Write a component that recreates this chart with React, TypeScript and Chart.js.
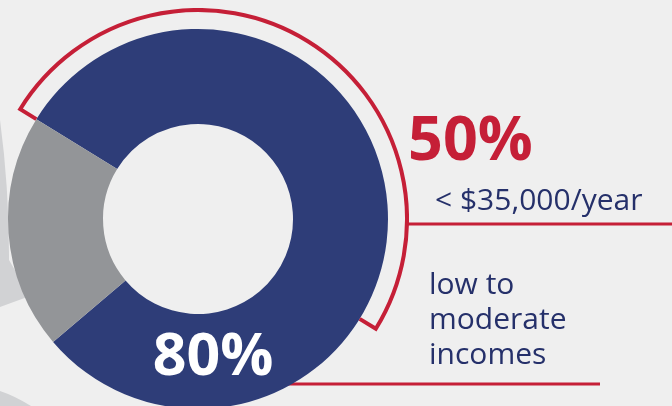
import React, { useEffect, useRef } from "react";
import { Chart, registerables } from "chart.js";

Chart.register(...registerables);

// ---- data ----
const categories = ["Low to moderate incomes", "Higher incomes"];
const incomeShares = [80, 20];
const under35kShares = [50, 50];
const ringColors = ["#2e3d78", "#939598"];
const headlineIncome = "80%";
const headlineUnder35k = "50%";
const under35kLabel = "< $35,000/year";
const incomeLabelLines = ["low to", "moderate", "incomes"];

const RED = "#c51f37";
const NAVY_TEXT = "#25306a";
const BG = "#efefef";

const bracketPlugin = {
  id: "bracketPlugin",
  afterDatasetsDraw(chart: any) {
    const meta = chart.getDatasetMeta(0);
    const arc = meta.data[0];
    if (!arc) return;
    const { x, y, startAngle, endAngle, innerRadius, outerRadius } = arc.getProps(
      ["x", "y", "startAngle", "endAngle", "innerRadius", "outerRadius"],
      true
    );
    const ctx = chart.ctx;
    const r = outerRadius - 2;
    ctx.save();
    ctx.strokeStyle = RED;
    ctx.lineWidth = 4;
    ctx.lineJoin = "miter";
    ctx.beginPath();
    ctx.moveTo(x + Math.cos(startAngle) * innerRadius, y + Math.sin(startAngle) * innerRadius);
    ctx.lineTo(x + Math.cos(startAngle) * r, y + Math.sin(startAngle) * r);
    ctx.arc(x, y, r, startAngle, endAngle);
    ctx.lineTo(x + Math.cos(endAngle) * innerRadius, y + Math.sin(endAngle) * innerRadius);
    ctx.stroke();
    ctx.restore();
  },
};

export default function App() {
  const canvasRef = useRef<HTMLCanvasElement | null>(null);

  useEffect(() => {
    if (!canvasRef.current) return;
    const chart = new Chart(canvasRef.current, {
      type: "doughnut",
      data: {
        labels: categories,
        datasets: [
          {
            label: "Under $35,000/year",
            data: under35kShares,
            backgroundColor: ["rgba(0,0,0,0)", "rgba(0,0,0,0)"],
            borderWidth: 0,
            weight: 21,
          } as any,
          {
            label: "Income",
            data: incomeShares,
            backgroundColor: ringColors,
            borderWidth: 0,
            weight: 95,
          } as any,
        ],
      },
      options: {
        responsive: false,
        animation: false,
        events: [],
        cutout: 95,
        rotation: -58.3,
        layout: { padding: 0 },
        plugins: {
          legend: { display: false },
          tooltip: { enabled: false },
        },
      },
      plugins: [bracketPlugin],
    });
    return () => chart.destroy();
  }, []);

  return (
    <div
      style={{
        position: "fixed",
        left: 0,
        top: 0,
        width: 672,
        height: 406,
        overflow: "hidden",
        background: BG,
      }}
    >
      <svg
        width={672}
        height={406}
        style={{ position: "absolute", left: 0, top: 0 }}
      >
        <path d="M0,120 A1017,1017 0 0 1 9,260 L30,296 L0,307 Z" fill="#d1d2d4" />
        <path d="M0,391 Q15,396 31,406 L0,406 Z" fill="#d1d2d4" />
        <rect x={407} y={222.5} width={265} height={3} fill={RED} />
        <rect x={285} y={382.5} width={315} height={3} fill={RED} />
      </svg>
      <canvas
        ref={canvasRef}
        width={422}
        height={422}
        style={{ position: "absolute", left: -13, top: 8, width: 422, height: 422 }}
      />
      <svg
        width={672}
        height={406}
        style={{ position: "absolute", left: 0, top: 0 }}
        fontFamily="'Open Sans', sans-serif"
      >
        <text x={213} y={375} fill="#ffffff" fontSize={59} fontWeight={700} textAnchor="middle">
          {headlineIncome}
        </text>
        <text x={408} y={160} fill={RED} fontSize={61} fontWeight={700}>
          {headlineUnder35k}
        </text>
        <text x={435} y={210} fill={NAVY_TEXT} fontSize={30}>
          {under35kLabel}
        </text>
        {incomeLabelLines.map((line, i) => (
          <text key={line} x={429} y={294 + i * 35} fill={NAVY_TEXT} fontSize={30}>
            {line}
          </text>
        ))}
      </svg>
    </div>
  );
}
